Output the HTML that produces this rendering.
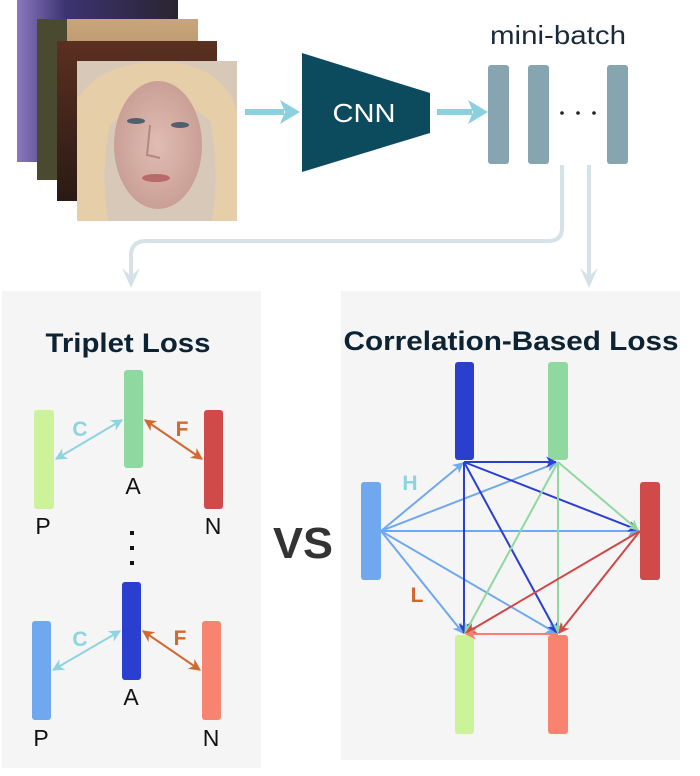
<!DOCTYPE html>
<html><head><meta charset="utf-8"><style>
html,body{margin:0;padding:0;background:#fff;width:700px;height:776px;overflow:hidden}
svg{display:block}
text{font-family:"Liberation Sans",Arial,sans-serif}
</style></head><body>
<svg width="700" height="776" viewBox="0 0 700 776" xmlns="http://www.w3.org/2000/svg">
<defs>
<linearGradient id="g1" x1="0" y1="0" x2="1" y2="0"><stop offset="0" stop-color="#8a78c0"/><stop offset="0.3" stop-color="#3c3470"/><stop offset="1" stop-color="#2a2430"/></linearGradient>
<linearGradient id="g2" x1="0" y1="0" x2="0" y2="1"><stop offset="0" stop-color="#c9a57a"/><stop offset="1" stop-color="#8a6a4a"/></linearGradient>
<linearGradient id="g3" x1="0" y1="0" x2="0" y2="1"><stop offset="0" stop-color="#5a3020"/><stop offset="1" stop-color="#2a1a14"/></linearGradient>
<radialGradient id="face" cx="0.5" cy="0.5" r="0.5"><stop offset="0" stop-color="#e0bcb2"/><stop offset="1" stop-color="#caa096"/></radialGradient>
<marker id="mLB" viewBox="0 0 10 10" refX="9" refY="5" markerWidth="5.5" markerHeight="5.5" orient="auto-start-reverse"><path d="M0,0 L10,5 L0,10 L3,5z" fill="#6fa8ef"/></marker>
<marker id="mDB" viewBox="0 0 10 10" refX="9" refY="5" markerWidth="5.5" markerHeight="5.5" orient="auto-start-reverse"><path d="M0,0 L10,5 L0,10 L3,5z" fill="#2a3fd0"/></marker>
<marker id="mG" viewBox="0 0 10 10" refX="9" refY="5" markerWidth="5.5" markerHeight="5.5" orient="auto-start-reverse"><path d="M0,0 L10,5 L0,10 L3,5z" fill="#8fd8a0"/></marker>
<marker id="mR" viewBox="0 0 10 10" refX="9" refY="5" markerWidth="5.5" markerHeight="5.5" orient="auto-start-reverse"><path d="M0,0 L10,5 L0,10 L3,5z" fill="#d04848"/></marker>
<marker id="mS" viewBox="0 0 10 10" refX="9" refY="5" markerWidth="5.5" markerHeight="5.5" orient="auto-start-reverse"><path d="M0,0 L10,5 L0,10 L3,5z" fill="#f5806e"/></marker>
<marker id="mC" viewBox="0 0 10 10" refX="9" refY="5" markerWidth="6" markerHeight="6" orient="auto-start-reverse"><path d="M0,0 L10,5 L0,10 L3,5z" fill="#8dd3e0"/></marker>
<marker id="mF" viewBox="0 0 10 10" refX="9" refY="5" markerWidth="6" markerHeight="6" orient="auto-start-reverse"><path d="M0,0 L10,5 L0,10 L3,5z" fill="#d0682f"/></marker>
</defs>

<!-- photos -->
<rect x="17" y="0" width="161" height="162" fill="url(#g1)"/>
<rect x="37" y="19" width="161" height="161" fill="url(#g2)"/>
<rect x="37" y="19" width="30" height="161" fill="#4a4a30"/>
<rect x="57" y="41" width="160" height="160" fill="url(#g3)"/>
<rect x="77" y="61" width="160" height="160" fill="#d8c8b8"/>
<path d="M77,221 L77,100 Q100,62 160,62 Q220,62 237,110 L237,221 L212,221 Q220,170 210,120 Q160,80 110,125 Q100,170 108,221z" fill="#e6cfa8"/>
<ellipse cx="158" cy="145" rx="44" ry="64" fill="url(#face)"/>
<ellipse cx="136" cy="121" rx="9" ry="3" fill="#506070"/>
<ellipse cx="180" cy="125" rx="9" ry="3" fill="#506070"/>
<path d="M150,125 L147,155 L160,158" stroke="#b08880" stroke-width="2" fill="none"/>
<ellipse cx="156" cy="178" rx="14" ry="4" fill="#b86a6a"/>

<!-- arrows top -->
<line x1="245" y1="112" x2="284" y2="112" stroke="#8ccfdf" stroke-width="6"/>
<path d="M280,100 L300,112 L280,124 L285,112z" fill="#8ccfdf"/>
<polygon points="302,53 430,93 430,133 302,172" fill="#0c4a5e"/>
<text x="364" y="122" font-size="26" fill="#fff" text-anchor="middle" textLength="63" lengthAdjust="spacingAndGlyphs">CNN</text>
<line x1="437" y1="112" x2="472" y2="112" stroke="#8ccfdf" stroke-width="6"/>
<path d="M468,100 L488,112 L468,124 L473,112z" fill="#8ccfdf"/>

<text x="558" y="44" font-size="26" fill="#1a2a3a" text-anchor="middle" textLength="136" lengthAdjust="spacingAndGlyphs">mini-batch</text>
<rect x="488" y="65" width="21" height="99" rx="3" fill="#87a5b0"/>
<rect x="528" y="65" width="21" height="99" rx="3" fill="#87a5b0"/>
<rect x="607" y="65" width="21" height="99" rx="3" fill="#87a5b0"/>
<circle cx="562" cy="113" r="1.8" fill="#222"/><circle cx="578" cy="113" r="1.8" fill="#222"/><circle cx="594" cy="113" r="1.8" fill="#222"/>

<!-- connectors -->
<path d="M562,165 L562,228 Q562,241 548,241 L146,241 Q131,241 131,256 L131,280" stroke="#d5e2e8" stroke-width="4" fill="none"/>
<path d="M122,268 L131,288 L140,268 L131,276z" fill="#d5e2e8"/>
<line x1="589" y1="165" x2="589" y2="280" stroke="#d5e2e8" stroke-width="4"/>
<path d="M580,268 L589,288 L598,268 L589,276z" fill="#d5e2e8"/>

<!-- left panel -->
<rect x="2" y="291" width="259" height="477" fill="#f5f5f5"/>
<text x="128" y="352" font-size="27" font-weight="bold" fill="#0d2233" text-anchor="middle" textLength="165" lengthAdjust="spacingAndGlyphs">Triplet Loss</text>
<rect x="34" y="410" width="20" height="99" rx="3" fill="#ccf29a"/>
<rect x="124" y="370" width="19" height="98" rx="3" fill="#8fd8a0"/>
<rect x="204" y="410" width="19" height="99" rx="3" fill="#d04a4a"/>
<line x1="56" y1="459" x2="122" y2="420" stroke="#8dd3e0" stroke-width="2" marker-start="url(#mC)" marker-end="url(#mC)"/>
<line x1="145" y1="420" x2="202" y2="459" stroke="#d0682f" stroke-width="2" marker-start="url(#mF)" marker-end="url(#mF)"/>
<text x="80" y="436" font-size="21" font-weight="bold" fill="#8dd3e0" text-anchor="middle">C</text>
<text x="182" y="436" font-size="21" font-weight="bold" fill="#d0682f" text-anchor="middle">F</text>
<text x="133" y="494" font-size="23" fill="#111" text-anchor="middle">A</text>
<text x="43" y="534" font-size="23" fill="#111" text-anchor="middle">P</text>
<text x="213" y="534" font-size="23" fill="#111" text-anchor="middle">N</text>
<rect x="130" y="531" width="4" height="4" fill="#111"/><rect x="130" y="546" width="4" height="4" fill="#111"/><rect x="130" y="561" width="4" height="4" fill="#111"/>
<rect x="32" y="621" width="19" height="99" rx="3" fill="#6fa8ef"/>
<rect x="122" y="582" width="19" height="98" rx="3" fill="#2a3fd0"/>
<rect x="202" y="621" width="19" height="99" rx="3" fill="#f78470"/>
<line x1="53" y1="670" x2="120" y2="631" stroke="#8dd3e0" stroke-width="2" marker-start="url(#mC)" marker-end="url(#mC)"/>
<line x1="143" y1="631" x2="200" y2="670" stroke="#d0682f" stroke-width="2" marker-start="url(#mF)" marker-end="url(#mF)"/>
<text x="80" y="646" font-size="21" font-weight="bold" fill="#8dd3e0" text-anchor="middle">C</text>
<text x="180" y="645" font-size="21" font-weight="bold" fill="#d0682f" text-anchor="middle">F</text>
<text x="131" y="705" font-size="23" fill="#111" text-anchor="middle">A</text>
<text x="41" y="746" font-size="23" fill="#111" text-anchor="middle">P</text>
<text x="211" y="746" font-size="23" fill="#111" text-anchor="middle">N</text>

<text x="303" y="558" font-size="44" font-weight="bold" fill="#333" text-anchor="middle" textLength="60" lengthAdjust="spacingAndGlyphs">VS</text>

<!-- right panel -->
<rect x="341" y="291" width="339" height="469" fill="#f5f5f5"/>
<text x="511" y="350" font-size="27" font-weight="bold" fill="#0d2233" text-anchor="middle" textLength="335" lengthAdjust="spacingAndGlyphs">Correlation-Based Loss</text>
<rect x="455" y="362" width="19" height="98" rx="3" fill="#2a3fd0"/>
<rect x="548" y="362" width="20" height="98" rx="3" fill="#8fd8a0"/>
<rect x="361" y="482" width="20" height="98" rx="3" fill="#6fa8ef"/>
<rect x="640" y="482" width="20" height="98" rx="3" fill="#d04a4a"/>
<rect x="455" y="635" width="19" height="99" rx="3" fill="#ccf29a"/>
<rect x="548" y="635" width="20" height="99" rx="3" fill="#f78470"/>
<g stroke-width="2" fill="none">
<g stroke="#6fa8ef" marker-end="url(#mLB)">
<line x1="381" y1="531" x2="463" y2="463"/>
<line x1="381" y1="531" x2="556" y2="463"/>
<line x1="381" y1="531" x2="638" y2="531"/>
<line x1="381" y1="531" x2="463" y2="633"/>
<line x1="381" y1="531" x2="556" y2="633"/>
</g>
<g stroke="#2a3fd0" marker-end="url(#mDB)">
<line x1="464" y1="462" x2="556" y2="462"/>
<line x1="464" y1="462" x2="638" y2="530"/>
<line x1="464" y1="462" x2="464" y2="633"/>
<line x1="464" y1="462" x2="557" y2="633"/>
</g>
<g stroke="#8fd8a0" marker-end="url(#mG)">
<line x1="558" y1="462" x2="638" y2="530"/>
<line x1="558" y1="462" x2="465" y2="633"/>
<line x1="558" y1="462" x2="558" y2="633"/>
</g>
<g stroke="#d04848" marker-end="url(#mR)">
<line x1="640" y1="531" x2="466" y2="633"/>
<line x1="640" y1="531" x2="559" y2="633"/>
</g>
<line x1="558" y1="634" x2="466" y2="634" stroke="#f5806e" marker-end="url(#mS)"/>
</g>
<text x="410" y="490" font-size="21" font-weight="bold" fill="#8dd3e0" text-anchor="middle">H</text>
<text x="417" y="602" font-size="21" font-weight="bold" fill="#d0682f" text-anchor="middle">L</text>
</svg>
</body></html>
